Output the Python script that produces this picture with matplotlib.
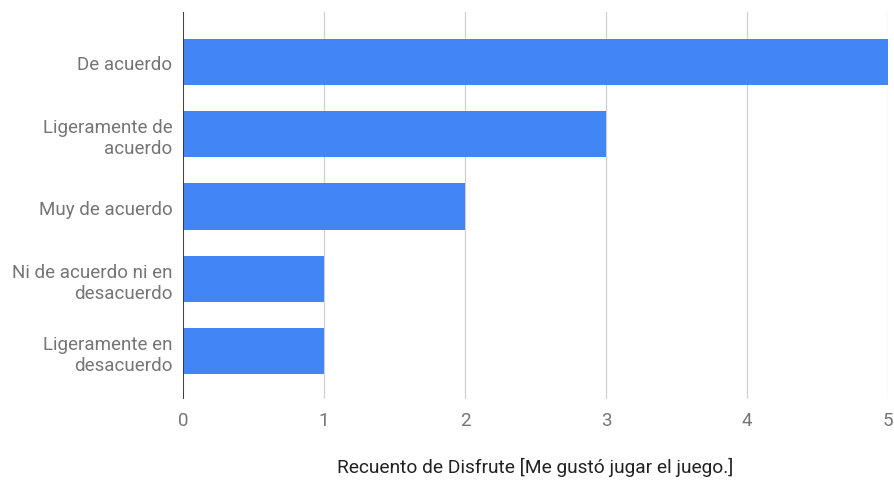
import matplotlib.pyplot as plt

categories = ["De acuerdo", "Ligeramente de\nacuerdo", "Muy de acuerdo",
              "Ni de acuerdo ni en\ndesacuerdo", "Ligeramente en\ndesacuerdo"]
counts = [5, 3, 2, 1, 1]
xticks = [0, 1, 2, 3, 4, 5]

plt.rcParams['font.family'] = ['Roboto', 'DejaVu Sans']

fig = plt.figure(figsize=(8.95, 4.85), dpi=100)
ax = fig.add_axes([183 / 895, 1 - 400 / 485, (888 - 183) / 895, 387 / 485])

pos = list(range(len(categories)))
ax.barh(pos, counts, height=0.64, color="#4285f4", zorder=3)

ax.set_xlim(0, 5)
ax.set_ylim(4.66, -0.69)
ax.set_xticks(xticks)
ax.set_xticklabels([str(t) for t in xticks])
ax.set_yticks(pos)
ax.set_yticklabels(categories, ha="right", multialignment="right", linespacing=1.2)

ax.grid(axis="x", color="#d0d0d0", linewidth=0.9, zorder=0)
ax.axvline(0, color="#333333", linewidth=1.3, zorder=4)
for s in ax.spines.values():
    s.set_visible(False)

ax.tick_params(axis="both", length=0, labelsize=13.5, labelcolor="#757575")
ax.tick_params(axis="x", pad=9)
ax.tick_params(axis="y", pad=7.5)

ax.set_xlabel("Recuento de Disfrute [Me gustó jugar el juego.]", fontsize=13.8,
              color="#222222", labelpad=20)

fig.savefig("out.png", dpi=100)
